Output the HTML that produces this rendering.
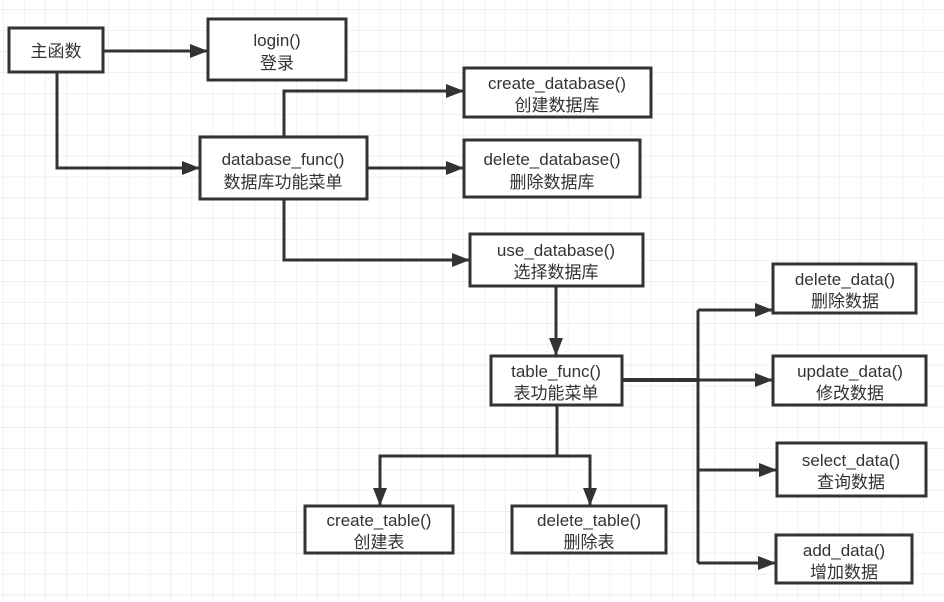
<!DOCTYPE html>
<html><head><meta charset="utf-8"><style>
html,body{margin:0;padding:0;background:#fff;}
svg{display:block;}
text{font-family:"Liberation Sans","Noto Sans CJK SC",sans-serif;font-size:17px;fill:#333;text-anchor:middle;}
</style></head><body>
<svg width="944" height="602" xmlns="http://www.w3.org/2000/svg">
<defs>
<pattern id="g" x="3.5" y="9.5" width="20.9" height="20.9" patternUnits="userSpaceOnUse">
<path d="M0 0H20.9M0 0V20.9" stroke="#e3e3e3" stroke-width="1" fill="none"/>
</pattern>
<marker id="a" markerWidth="18" markerHeight="14" refX="17" refY="7" orient="auto" markerUnits="userSpaceOnUse">
<path d="M0 0L18 7L0 14Z" fill="#333"/>
</marker>
</defs>
<rect width="944" height="602" fill="url(#g)"/>
<g stroke="#333" stroke-width="3" fill="none">
<path d="M103 51H207" marker-end="url(#a)"/>
<path d="M57 72V168H199" marker-end="url(#a)"/>
<path d="M284 137V91H463" marker-end="url(#a)"/>
<path d="M367 168H463" marker-end="url(#a)"/>
<path d="M284 199V260H469" marker-end="url(#a)"/>
<path d="M556 286V355" marker-end="url(#a)"/>
<path d="M557 405V456H380V505" marker-end="url(#a)"/>
<path d="M557 456H590V505" marker-end="url(#a)"/>
<path d="M622 380H698" stroke-width="4"/>
<path d="M698 310V563"/>
<path d="M698 310H772" marker-end="url(#a)"/>
<path d="M698 380H772" marker-end="url(#a)"/>
<path d="M698 470H776" marker-end="url(#a)"/>
<path d="M698 563H775" marker-end="url(#a)"/>
</g>
<g stroke="#333" stroke-width="3" fill="#fff">
<rect x="9" y="28" width="94" height="44"/>
<rect x="208" y="19" width="138" height="61"/>
<rect x="464" y="68" width="187" height="49"/>
<rect x="200" y="137" width="167" height="62"/>
<rect x="464" y="140" width="176" height="57"/>
<rect x="470" y="234" width="173" height="52"/>
<rect x="491" y="356" width="131" height="49"/>
<rect x="773" y="264" width="143" height="49"/>
<rect x="773" y="356" width="153" height="49"/>
<rect x="777" y="443" width="149" height="53"/>
<rect x="776" y="535" width="136" height="48"/>
<rect x="305" y="506" width="148" height="47"/>
<rect x="512" y="506" width="154" height="47"/>
</g>
<text x="56" y="57">主函数</text>
<text x="277" y="46">login()</text><text x="277" y="69">登录</text>
<text x="557" y="89">create_database()</text><text x="557" y="111">创建数据库</text>
<text x="283" y="165">database_func()</text><text x="283" y="188">数据库功能菜单</text>
<text x="552" y="165">delete_database()</text><text x="552" y="188">删除数据库</text>
<text x="556" y="256">use_database()</text><text x="556" y="278">选择数据库</text>
<text x="556" y="377">table_func()</text><text x="556" y="399">表功能菜单</text>
<text x="845" y="285">delete_data()</text><text x="845" y="307">删除数据</text>
<text x="850" y="377">update_data()</text><text x="850" y="399">修改数据</text>
<text x="851" y="466">select_data()</text><text x="851" y="488">查询数据</text>
<text x="844" y="556">add_data()</text><text x="844" y="578">增加数据</text>
<text x="379" y="526">create_table()</text><text x="379" y="548">创建表</text>
<text x="589" y="526">delete_table()</text><text x="589" y="548">删除表</text>
</svg>
</body></html>
